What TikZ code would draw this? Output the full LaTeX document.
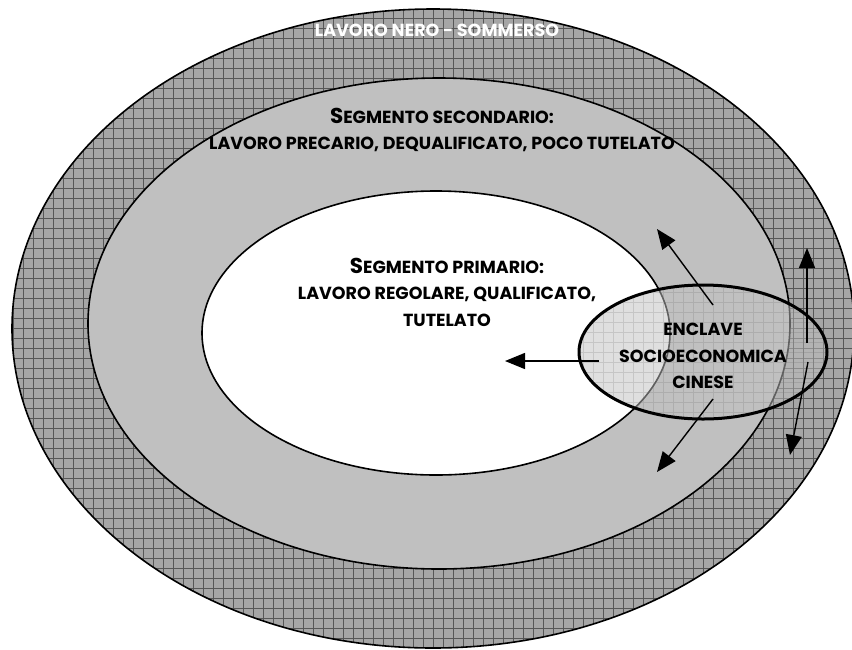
\documentclass[tikz,border=0pt]{standalone}
\usepackage{fontspec}
\setmainfont{Poppins}
\usetikzlibrary{arrows.meta,shapes.geometric,positioning}

\definecolor{ringdark}{HTML}{A6A6A6}
\definecolor{ringlight}{HTML}{C0C0C0}
\definecolor{gridline}{HTML}{575757}

\newcommand{\bigS}{{\fontsize{21.5}{24}\selectfont S}}

\tikzset{
  zone/.style={shape=ellipse, draw=black, line width=1.6pt, inner sep=0pt},
  gridfill/.style={path picture={\draw[gridline, line width=0.45pt, step=10pt]
      (path picture bounding box.south west) grid (path picture bounding box.north east);}},
  zonetext/.style={align=center, font=\bfseries\fontsize{17.5}{26.5}\selectfont},
  flow/.style={draw=black, -{Triangle[length=20pt,width=16pt]}, line width=1.4pt},
}

\begin{document}
\begin{tikzpicture}[x=1pt, y=-1pt]
      \useasboundingbox (0,0) rectangle (852,649);

      % the three labour market rings
      \node[zone, fill=ringdark, gridfill, minimum width=842pt, minimum height=639pt]
           (Nero) at (433,328.5) {};
      \node[zone, fill=ringlight, minimum width=702pt, minimum height=491pt]
           (Second) at (439,323.5) {};
      \node[zone, fill=white, minimum width=468pt, minimum height=284pt]
           (Primo) at (436,333) {};

      \node[zonetext, text=white] (NeroTxt) at (437,30) {LAVORO NERO - SOMMERSO};
      \node[zonetext] (SecondTxt) at (442,130)
           {\bigS EGMENTO SECONDARIO:\\LAVORO PRECARIO, DEQUALIFICATO, POCO TUTELATO};
      \node[zonetext] (PrimoTxt) at (447,292)
           {\bigS EGMENTO PRIMARIO:\\LAVORO REGOLARE, QUALIFICATO,\\TUTELATO};

      % the enclave
      \node[shape=ellipse, inner sep=0pt, minimum width=248pt, minimum height=134pt,
            fill=ringlight, fill opacity=0.5,
            path picture={\draw[gridline, opacity=0.18, line width=0.45pt, step=10pt]
              (path picture bounding box.south west) grid (path picture bounding box.north east);}]
           (Encl) at (703,352) {};

      \coordinate (wFrom) at (599,361);  \coordinate (wTo) at (505,361);
      \coordinate (nwFrom) at (713,305); \coordinate (nwTo) at (657,229);
      \coordinate (swFrom) at (713,399); \coordinate (swTo) at (657,472);
      \coordinate (nFrom) at (807,343);  \coordinate (nTo) at (807,248);
      \coordinate (sFrom) at (808,362);  \coordinate (sTo) at (790,455);

      \draw [flow] (wFrom) -- (wTo);
      \draw [flow] (nwFrom) -- (nwTo);
      \draw [flow] (swFrom) -- (swTo);
      \draw [flow] (nFrom) -- (nTo);
      \draw [flow] (sFrom) -- (sTo);

      \draw[line width=3pt] (Encl.center) ellipse (124pt and 67pt);
      \node[zonetext] (EnclTxt) at (703,356) {ENCLAVE\\SOCIOECONOMICA\\CINESE};
\end{tikzpicture}
\end{document}
